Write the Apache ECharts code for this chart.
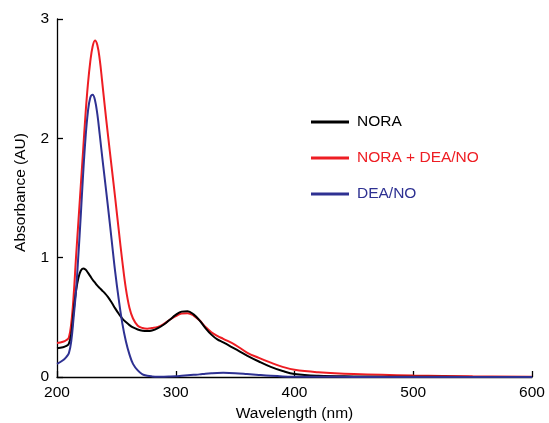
<!DOCTYPE html>
<html>
<head>
<meta charset="utf-8">
<script src="https://cdn.jsdelivr.net/npm/echarts@6/dist/echarts.min.js"></script>
<style>
html,body{margin:0;padding:0;background:#fff;}
#c{width:549px;height:423px;}
</style>
</head>
<body>
<div id="c"></div>
<script>
var wavelengths = [200,205,208,210,212,214,216,218,220,222,224,226,228,230,232,234,236,238,240,243,246,249,252,255,258,261,264,268,272,276,280,285,290,295,300,305,310,315,320,325,330,335,340,350,360,370,380,390,400,420,450,500,550,600];
var nora = [0.24,0.25,0.26,0.28,0.36,0.55,0.72,0.83,0.89,0.91,0.90,0.875,0.845,0.815,0.79,0.765,0.745,0.725,0.705,0.67,0.625,0.575,0.53,0.49,0.46,0.435,0.415,0.398,0.388,0.385,0.39,0.41,0.44,0.48,0.52,0.548,0.552,0.525,0.475,0.41,0.355,0.315,0.29,0.235,0.18,0.13,0.085,0.05,0.025,0.01,0.005,0.002,0.001,0];
var noraDea = [0.285,0.295,0.31,0.33,0.45,0.68,1.0,1.3,1.6,1.9,2.2,2.45,2.64,2.77,2.82,2.78,2.66,2.48,2.29,2.02,1.76,1.50,1.23,0.97,0.74,0.58,0.49,0.43,0.41,0.405,0.41,0.42,0.445,0.48,0.51,0.533,0.535,0.515,0.475,0.42,0.375,0.345,0.32,0.27,0.205,0.16,0.12,0.085,0.06,0.04,0.025,0.012,0.006,0.003];
var deaNo = [0.11,0.14,0.17,0.2,0.3,0.5,0.72,1.02,1.35,1.7,2.0,2.22,2.34,2.365,2.32,2.2,2.03,1.85,1.68,1.42,1.15,0.88,0.65,0.45,0.30,0.19,0.11,0.055,0.022,0.01,0.005,0.003,0.003,0.004,0.006,0.01,0.014,0.018,0.022,0.027,0.031,0.034,0.035,0.032,0.025,0.017,0.01,0.005,0.003,0.002,0.001,0.001,0,0];
var seriesNames = ['NORA','NORA + DEA/NO','DEA/NO'];
var seriesColors = ['#000000','#ee1d23','#2e3192'];
var xTicks = {min:200, max:600, interval:100};
var yTicks = {min:0, max:3, interval:1};

function pairs(vals){ return wavelengths.map(function(w,i){ return [w, vals[i]]; }); }
var allData = [nora, noraDea, deaNo];
var FONT = '"Liberation Sans", Arial, Helvetica, sans-serif';

var chart = echarts.init(document.getElementById('c'), null, {renderer:'canvas'});
chart.setOption({
  animation:false,
  backgroundColor:'#fff',
  grid:{left:57, right:17, top:19, bottom:46, containLabel:false, outerBoundsMode:'none'},
  legend:{
    orient:'vertical', left:311, top:113, padding:0,
    itemWidth:38, itemHeight:3, itemGap:18,
    icon:'rect',
    textStyle:{fontFamily:FONT, fontSize:15.5, lineHeight:18, padding:[0,0,0,3]},
    data: seriesNames.map(function(n,i){ return {name:n, textStyle:{color:seriesColors[i]}}; })
  },
  xAxis:{
    type:'value', min:xTicks.min, max:xTicks.max, interval:xTicks.interval,
    name:'Wavelength (nm)', nameLocation:'middle', nameGap:27,
    nameTextStyle:{fontFamily:FONT, fontSize:15.5, color:'#000'},
    axisLine:{lineStyle:{color:'#000', width:1.3}},
    axisTick:{inside:true, length:6, lineStyle:{color:'#000', width:1.3}},
    axisLabel:{fontFamily:FONT, fontSize:15.5, color:'#000', margin:8},
    splitLine:{show:false}
  },
  yAxis:{
    type:'value', min:yTicks.min, max:yTicks.max, interval:yTicks.interval,
    name:'Absorbance (AU)', nameLocation:'middle', nameGap:28,
    nameTextStyle:{fontFamily:FONT, fontSize:15.5, color:'#000', padding:[0,0,0,11]},
    axisLine:{show:true, lineStyle:{color:'#000', width:1.3}},
    axisTick:{show:true, inside:true, length:6, lineStyle:{color:'#000', width:1.3}},
    axisLabel:{fontFamily:FONT, fontSize:15.5, color:'#000', margin:8},
    splitLine:{show:false}
  },
  series: allData.map(function(d,i){
    return {
      name:seriesNames[i], type:'line', data:pairs(d),
      showSymbol:false, smooth:0.4,
      lineStyle:{color:seriesColors[i], width:2},
      itemStyle:{color:seriesColors[i]},
      z: i===0 ? 3 : (i===1 ? 2 : 4)
    };
  })
});
</script>
</body>
</html>
